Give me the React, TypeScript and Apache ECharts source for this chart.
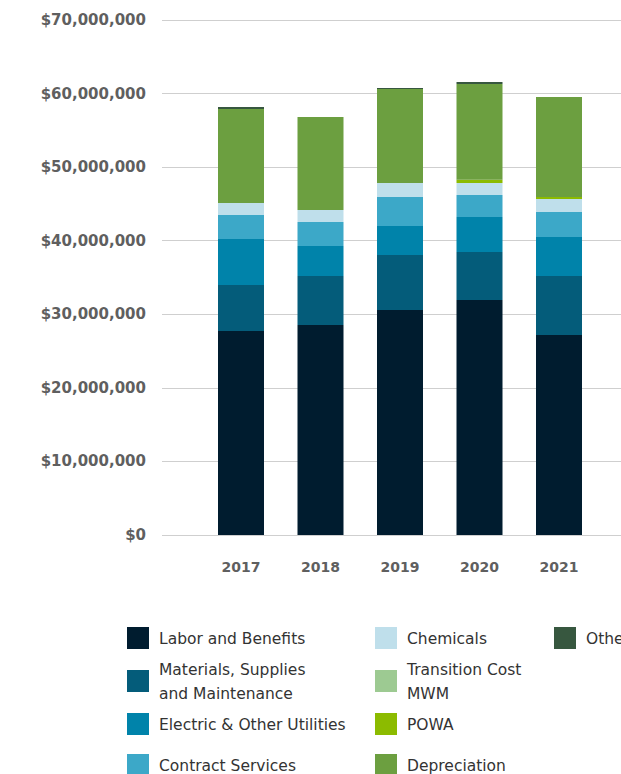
import React, { useEffect, useRef } from "react";
import * as echarts from "echarts";

const years = ["2017", "2018", "2019", "2020", "2021"];
const seriesNames = [
  "Labor and Benefits",
  "Materials, Supplies\nand Maintenance",
  "Electric & Other Utilities",
  "Contract Services",
  "Chemicals",
  "Transition Cost\nMWM",
  "POWA",
  "Depreciation",
  "Other",
];
const labor = [27730000, 28540000, 30580000, 31940000, 27180000];
const materials = [6250000, 6660000, 7480000, 6530000, 8020000];
const electric = [6250000, 4080000, 3940000, 4750000, 5300000];
const contract = [3270000, 3270000, 3940000, 2990000, 3400000];
const chemicals = [1630000, 1630000, 1910000, 1640000, 1770000];
const transition = [0, 0, 0, 0, 0];
const powa = [0, 0, 0, 450000, 270000];
const depreciation = [12770000, 12640000, 12770000, 13000000, 13600000];
const other = [270000, 0, 140000, 270000, 0];
const seriesData = [labor, materials, electric, contract, chemicals, transition, powa, depreciation, other];
const colors = ["#001c2f", "#045c7a", "#0083aa", "#3ca8c8", "#bfdfeb", "#9dca92", "#8cbb00", "#6c9f40", "#37573f"];
const yTicks = { min: 0, max: 70000000, interval: 10000000 };

// legend layout: column per group, rows
const legendCols = [[0, 1, 2, 3], [4, 5, 6, 7], [8]];
const legendColX = [127, 375, 554];
const legendRowY = [638, 681, 724, 765];

export default function App() {
  const ref = useRef<HTMLDivElement>(null);
  useEffect(() => {
    if (!ref.current) return;
    const chart = echarts.init(ref.current, undefined, { renderer: "svg" });
    const fmt = (v: number) => "$" + v.toLocaleString("en-US");
    const graphics: any[] = [];
    legendCols.forEach((col, ci) => {
      col.forEach((si, ri) => {
        const cy = legendRowY[ri];
        graphics.push({
          type: "rect",
          shape: { x: legendColX[ci], y: cy - 11, width: 22, height: 22 },
          style: { fill: colors[si] },
        });
        graphics.push({
          type: "text",
          x: legendColX[ci] + 32,
          y: cy + 1,
          style: {
            text: seriesNames[si],
            fill: "#333333",
            font: "15.5px 'DejaVu Sans'",
            lineHeight: 24,
            verticalAlign: "middle",
            align: "left",
          },
        });
      });
    });
    chart.setOption({
      animation: false,
      grid: [
        { left: 162, right: 0, top: 20, height: 515 },
        { left: 201.25, right: 22.25, top: 20, height: 515 },
      ],
      xAxis: [
        { type: "category", gridIndex: 0, data: years, show: false },
        {
          type: "category",
          gridIndex: 1,
          data: years,
          axisLine: { show: false },
          axisTick: { show: false },
          axisLabel: {
            margin: 25,
            color: "#5f5f5f",
            fontWeight: "bold",
            fontSize: 14,
            fontFamily: "DejaVu Sans",
          },
        },
      ],
      yAxis: [
        {
          type: "value",
          gridIndex: 0,
          ...yTicks,
          axisLine: { show: false },
          axisTick: { show: false },
          splitLine: { lineStyle: { color: "#cfcfcf", width: 1 } },
          axisLabel: {
            margin: 16,
            color: "#5f5f5f",
            fontWeight: "bold",
            fontSize: 15,
            fontFamily: "DejaVu Sans",
            formatter: fmt,
          },
        },
        {
          type: "value",
          gridIndex: 1,
          ...yTicks,
          show: false,
          splitLine: { show: false },
        },
      ],
      series: seriesNames.map((name, i) => ({
        name,
        type: "bar",
        stack: "total",
        xAxisIndex: 1,
        yAxisIndex: 1,
        barWidth: 46,
        data: seriesData[i],
        itemStyle: { color: colors[i] },
      })),
      graphic: graphics,
    });
    return () => chart.dispose();
  }, []);
  return (
    <div
      ref={ref}
      style={{ position: "fixed", left: 0, top: 0, width: 621, height: 774, background: "#fff" }}
    />
  );
}
